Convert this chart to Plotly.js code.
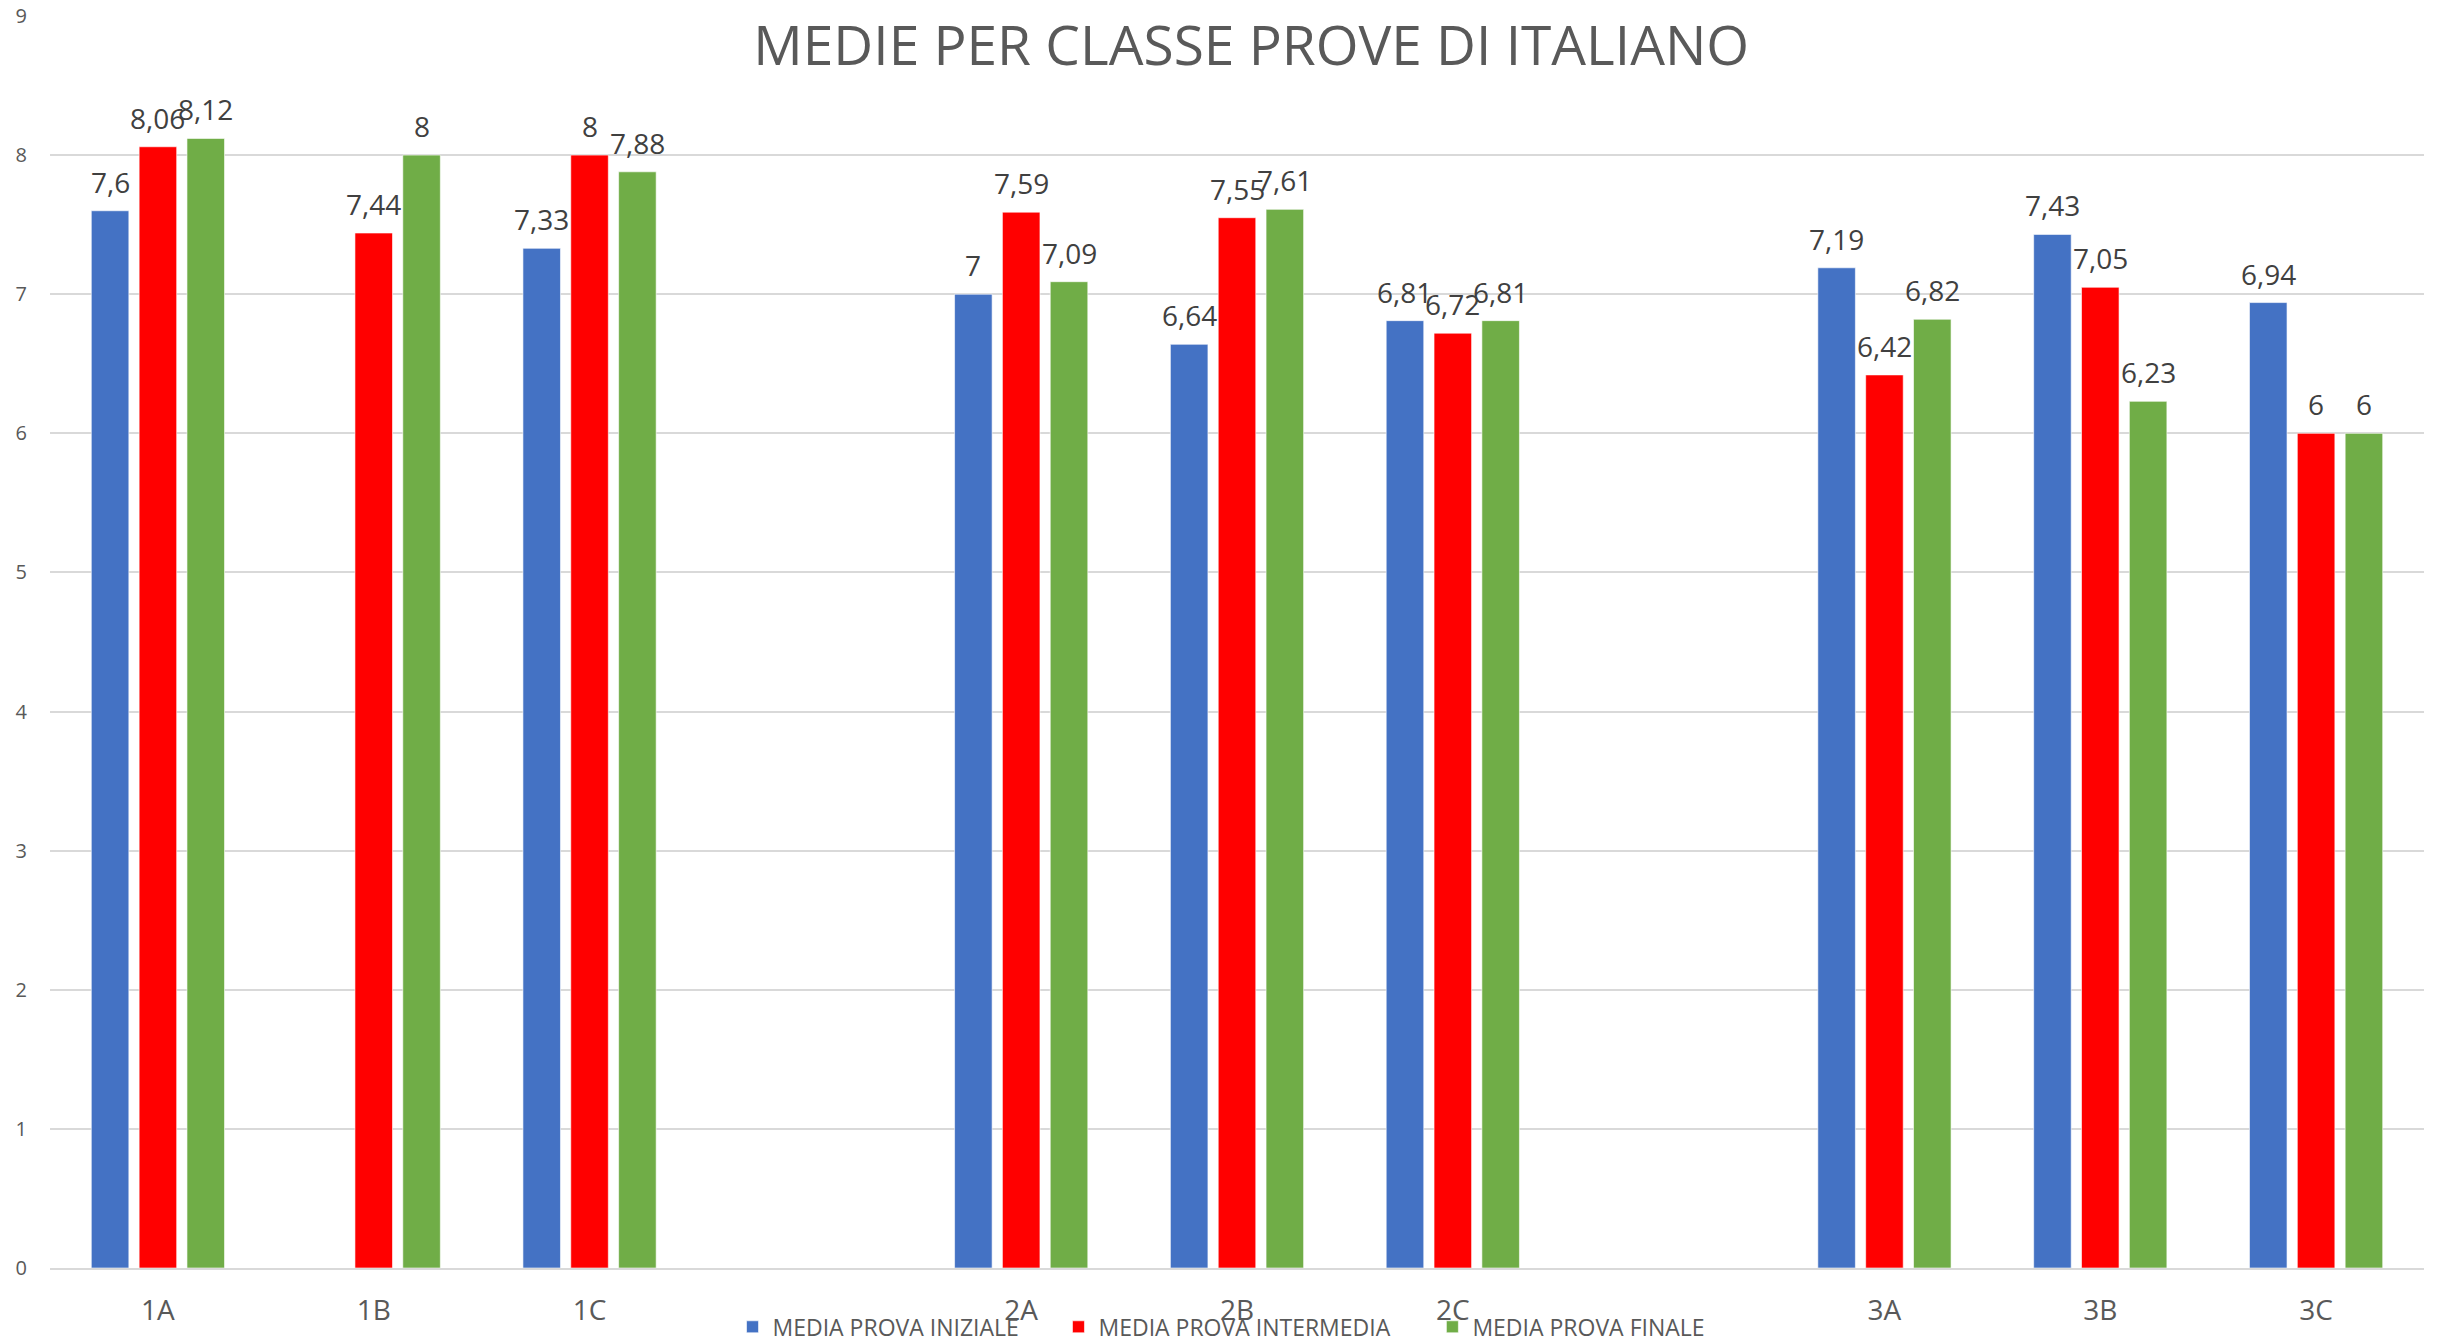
<!DOCTYPE html>
<html>
<head>
<meta charset="utf-8">
<script src="https://cdn.plot.ly/plotly-3.0.1.min.js"></script>
<style>
  html, body { margin: 0; padding: 0; background: #ffffff; }
  #chart { width: 2443px; height: 1343px; }
</style>
</head>
<body>
<div id="chart"></div>
<script>
// Categories (blank entries are the empty slots between the class groups)
const categories = ["1A", "1B", "1C", " ", "2A", "2B", "2C", "  ", "3A", "3B", "3C"];

const seriesNames = ["MEDIA PROVA INIZIALE", "MEDIA PROVA INTERMEDIA", "MEDIA PROVA FINALE"];

const mediaIniziale    = [7.6,  null, 7.33, null, 7,    6.64, 6.81, null, 7.19, 7.43, 6.94];
const mediaIntermedia  = [8.06, 7.44, 8,    null, 7.59, 7.55, 6.72, null, 6.42, 7.05, 6];
const mediaFinale      = [8.12, 8,    7.88, null, 7.09, 7.61, 6.81, null, 6.82, 6.23, 6];

const seriesColors = ["#4472C4", "#FF0000", "#70AD47"];

const FONT = "'Open Sans', 'Noto Sans', sans-serif";

const W = 2443, H = 1343;
const M = { l: 50, r: 19, t: 16, b: 75 };
const BARGAP = 0.335, BARGROUPGAP = 0.215;

function fmt(v) { return String(v).replace(".", ","); }

const allSeries = [mediaIniziale, mediaIntermedia, mediaFinale];
const legendIds = ["legend", "legend2", "legend3"];

const traces = allSeries.map((vals, i) => ({
  type: "bar",
  name: seriesNames[i],
  legend: legendIds[i],
  x: categories,
  y: vals,
  marker: { color: seriesColors[i], line: { color: "rgba(255,255,255,0.6)", width: 1 } },
  hoverinfo: "x+y"
}));

// data labels: placed at each bar's value, offset horizontally to the bar's slot in its group
const catWidth = (W - M.l - M.r) / categories.length;
const slot = catWidth * (1 - BARGAP) / allSeries.length;
const annotations = [];
allSeries.forEach((vals, i) => {
  vals.forEach((v, j) => {
    if (v === null) return;
    annotations.push({
      x: categories[j], y: v, xref: "x", yref: "y",
      text: fmt(v), showarrow: false,
      xanchor: "center", yanchor: "bottom",
      xshift: (i - (allSeries.length - 1) / 2) * slot,
      yshift: 8,
      font: { family: FONT, size: 28, color: "#404040" }
    });
  });
});

function legendAt(xpos) {
  return {
    orientation: "h",
    x: xpos, xanchor: "left",
    y: -0.047, yanchor: "middle",
    font: { family: FONT, size: 23, color: "#595959" },
    bgcolor: "rgba(0,0,0,0)",
    borderwidth: 0,
    itemclick: false
  };
}

const layout = {
  width: W,
  height: H,
  paper_bgcolor: "#ffffff",
  plot_bgcolor: "#ffffff",
  margin: { l: M.l, r: M.r, t: M.t, b: M.b, pad: 0, autoexpand: false },
  font: { family: FONT, color: "#595959" },
  title: {
    text: "MEDIE PER CLASSE PROVE DI ITALIANO",
    font: { family: FONT, size: 55, color: "#595959" },
    xref: "paper", x: 0.506, xanchor: "center",
    yref: "container", y: 1 - 46 / H, yanchor: "middle"
  },
  barmode: "group",
  bargap: BARGAP,
  bargroupgap: BARGROUPGAP,
  showlegend: true,
  legend: legendAt(0.2875),
  legend2: legendAt(0.4248),
  legend3: legendAt(0.5823),
  annotations: annotations,
  xaxis: {
    type: "category",
    categoryorder: "array",
    categoryarray: categories,
    showgrid: false,
    showline: true,
    linecolor: "#d9d9d9",
    linewidth: 2,
    ticks: "",
    ticklabelstandoff: 16,
    tickfont: { family: FONT, size: 28, color: "#595959" },
    zeroline: false,
    fixedrange: true
  },
  yaxis: {
    range: [0, 9],
    dtick: 1,
    tick0: 0,
    showgrid: true,
    gridcolor: "#d9d9d9",
    gridwidth: 2,
    zeroline: false,
    showline: false,
    ticks: "",
    ticklabelstandoff: 22,
    tickfont: { family: FONT, size: 20, color: "#595959" },
    fixedrange: true
  }
};

Plotly.newPlot("chart", traces, layout, { displayModeBar: false, staticPlot: true });
</script>
</body>
</html>
